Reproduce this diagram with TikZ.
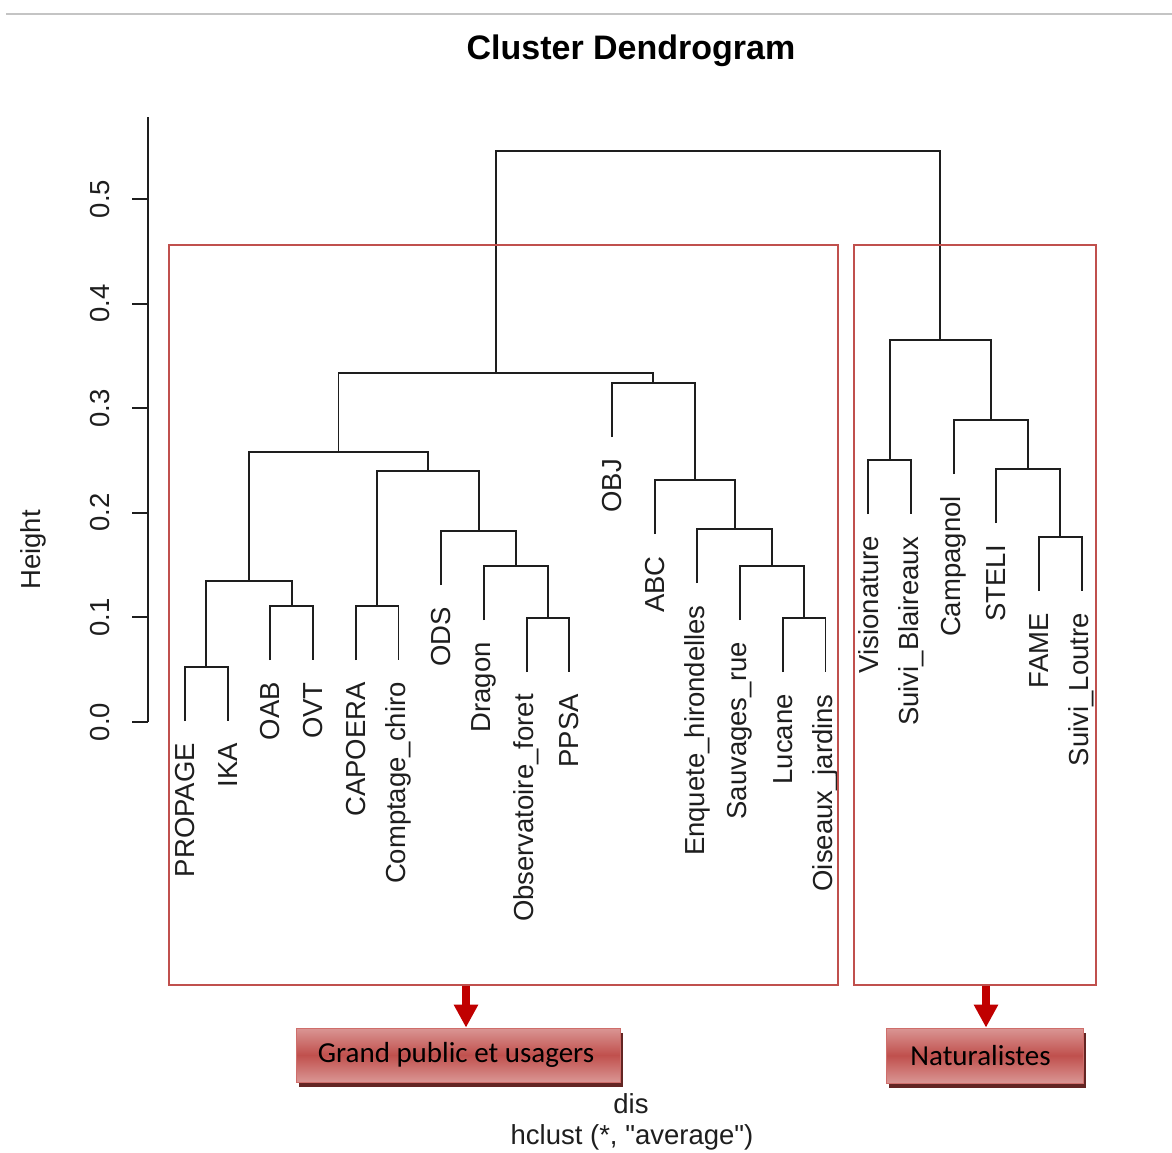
\documentclass[tikz,border=0pt]{standalone}
\usepackage{fontspec}
\setmainfont{Liberation Sans}[Ligatures=TeXOff]
\newfontfamily\boxfont{Carlito}
\usetikzlibrary{calc,arrows.meta,shadows}

\definecolor{ink}{HTML}{1E1E1E}
\definecolor{framered}{HTML}{C0504D}
\definecolor{arrowred}{HTML}{C00000}
\definecolor{boxlight}{HTML}{DA9694}
\definecolor{boxmid}{HTML}{C0504D}
\definecolor{boxedge}{HTML}{CF6E6B}
\definecolor{boxshadow}{HTML}{632523}
\definecolor{rule}{HTML}{C4C4C4}

\newcommand\plotfont{\fontsize{27.5}{30}\selectfont}

% one merge of the tree: name, left child, right child, merge level
\newcommand\joinpair[4]{%
  \coordinate (hy) at (0,#4);
  \draw[dline] (#2) -- (#2 |- hy) -- (#3 |- hy) -- (#3);
  \coordinate (#1) at ($(#2 |- hy)!0.5!(#3 |- hy)$);
}

\begin{document}
\begin{tikzpicture}[x=1pt,y=-1pt,
  dline/.style={draw=ink,line width=1.9pt,line join=miter},
  axisline/.style={draw=ink,line width=1.9pt},
  plottext/.style={font=\plotfont,text=ink,inner sep=0pt},
  leaf/.style={plottext,rotate=90,anchor=east},
  clusterbox/.style={draw=framered,line width=1.4pt,inner sep=0pt},
  lbox/.style={draw=boxedge,line width=0.8pt,
    top color=boxlight,bottom color=boxlight,middle color=boxmid,
    font=\boxfont\fontsize{29}{30}\selectfont,text=black,inner sep=0pt,
    drop shadow={shadow xshift=3pt,shadow yshift=-5pt,fill=boxshadow,opacity=1}},
  bigarrow/.style={draw=arrowred,line width=8pt,
    -{Triangle[width=23pt,length=23pt]}}]

\useasboundingbox (0,0) rectangle (1172,1152);
\fill[white] (0,0) rectangle (1172,1152);

% thin rule along the top
\draw[rule,line width=1.5pt] (6,14) -- (1172,14);

% title
\node[font=\bfseries\fontsize{34}{36}\selectfont,text=black] (title) at (631,51) {Cluster Dendrogram};

% vertical axis
\draw[axisline] (148,722) -- (148,117);
\foreach \v/\nm in {0.0/t0,0.1/t1,0.2/t2,0.3/t3,0.4/t4,0.5/t5}{
  \draw[axisline] (132,722-1046*\v) -- (148,722-1046*\v);
  \node[plottext,rotate=90] (\nm) at (100,722-1046*\v) {\v};
}
\node[plottext,rotate=90] (ylab) at (33,550) {Height};

% leaves: position, level of first merge, label, name
\foreach \i/\hy/\lbl/\nm in {
  0/667/PROPAGE/a, 1/667/IKA/b, 2/606/OAB/c, 3/606/OVT/d,
  4/606/CAPOERA/e, 5/606/Comptage\_chiro/f, 6/531/ODS/g, 7/566/Dragon/h,
  8/618/Observatoire\_foret/i, 9/618/PPSA/j, 10/383/OBJ/k, 11/480/ABC/l,
  12/529/Enquete\_hirondelles/m, 13/566/Sauvages\_rue/n, 14/618/Lucane/o,
  15/618/Oiseaux\_jardins/p, 16/460/Visionature/q, 17/460/Suivi\_Blaireaux/r,
  18/420/Campagnol/s, 19/469/STELI/t, 20/537/FAME/u, 21/537/Suivi\_Loutre/v}{
  \coordinate (\nm) at (185+42.7*\i,\hy+54);
  \node[leaf] (lab\nm) at (185+42.7*\i,\hy+76) {\lbl};
}

% tree
\joinpair{m1}{a}{b}{667}
\joinpair{m2}{c}{d}{606}
\joinpair{m3}{m1}{m2}{581}
\joinpair{m4}{e}{f}{606}
\joinpair{m5}{i}{j}{618}
\joinpair{m6}{h}{m5}{566}
\joinpair{m7}{g}{m6}{531}
\joinpair{m8}{m4}{m7}{471}
\joinpair{m9}{m3}{m8}{452}
\joinpair{m10}{o}{p}{618}
\joinpair{m11}{n}{m10}{566}
\joinpair{m12}{m}{m11}{529}
\joinpair{m13}{l}{m12}{480}
\joinpair{m14}{k}{m13}{383}
\joinpair{m15}{m9}{m14}{373}
\joinpair{m16}{q}{r}{460}
\joinpair{m17}{u}{v}{537}
\joinpair{m18}{t}{m17}{469}
\joinpair{m19}{s}{m18}{420}
\joinpair{m20}{m16}{m19}{340}
\joinpair{m21}{m15}{m20}{151}

% cluster frames
\node[clusterbox,minimum width=669pt,minimum height=740pt] (grpL) at (503.5,615) {};
\node[clusterbox,minimum width=242pt,minimum height=740pt] (grpR) at (975,615) {};

% group labels
\node[lbox,minimum width=324pt,minimum height=54pt] (gp) at (458,1055) {\hspace*{-4pt}Grand public et usagers};
\node[lbox,minimum width=197pt,minimum height=55pt] (nat) at (984.5,1055.5) {Naturalistes\hspace*{8pt}};

% arrows from frames to labels
\coordinate (aL) at ([xshift=8pt]gp.north);
\coordinate (aR) at ([xshift=1.5pt]nat.north);
\draw[bigarrow] (grpL.south -| aL) -- (aL);
\draw[bigarrow] (grpR.south -| aR) -- (aR);

% x-axis caption
\node[plottext] (xlab) at (631,1104) {dis};
\node[plottext] (sub) at (632,1137) {hclust (*, "average")};

\end{tikzpicture}
\end{document}
